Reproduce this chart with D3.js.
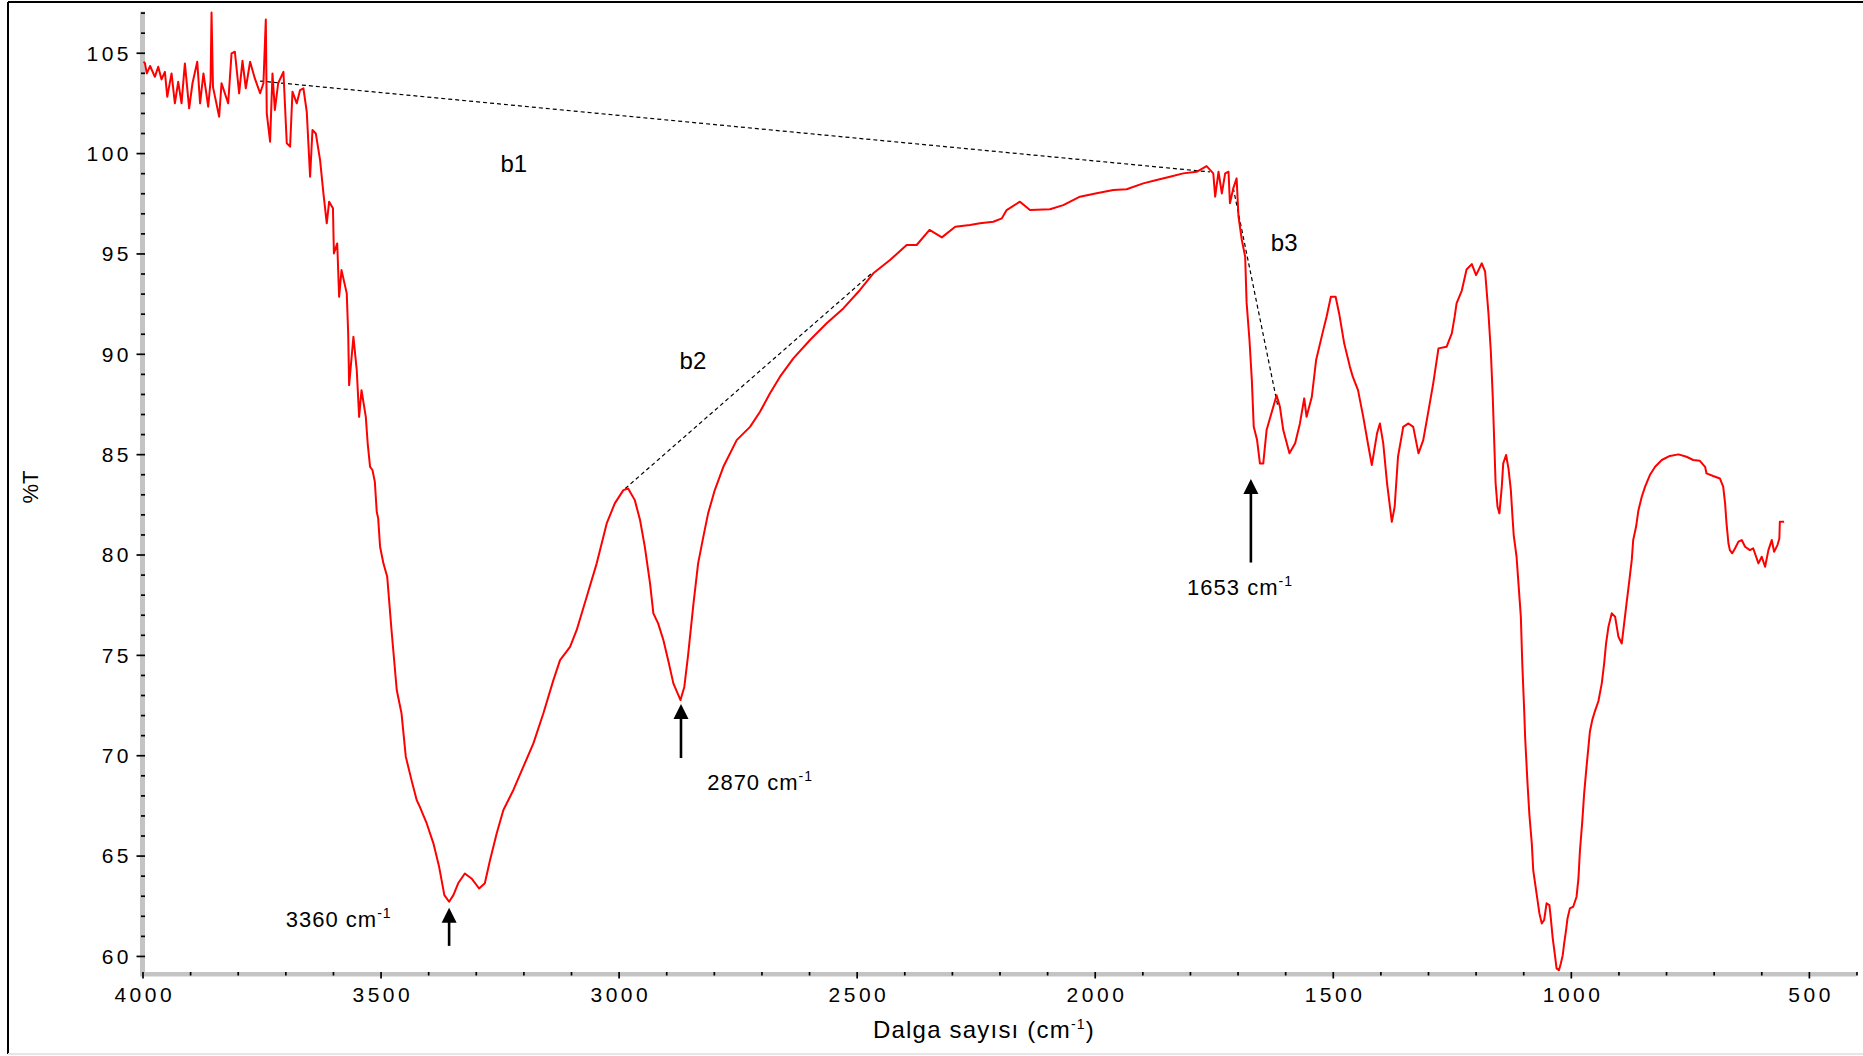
<!DOCTYPE html>
<html>
<head>
<meta charset="utf-8">
<script src="https://cdn.jsdelivr.net/npm/d3@7"></script>
<style>
  body { margin: 0; background: #fff; }
  svg text { font-family: "Liberation Sans", Arial, sans-serif; fill: #000; }
</style>
</head>
<body>
<svg id="chart"></svg>
<script>
// FTIR spectrum (cm-1 / %T)
const wavenumber = [
  3998, 3995, 3991, 3984, 3974, 3967, 3960, 3953, 3948, 3939,
  3932, 3925, 3918, 3911, 3902, 3895, 3885, 3879, 3872, 3862,
  3857, 3855, 3852, 3839, 3834, 3820, 3813, 3806, 3797, 3790,
  3783, 3774, 3764, 3753, 3746, 3741, 3739, 3732, 3727, 3722,
  3715, 3704, 3697, 3690, 3685, 3676, 3669, 3662, 3655, 3648,
  3643, 3636, 3627, 3620, 3613, 3608, 3600, 3598, 3591, 3587,
  3582, 3571, 3568, 3566, 3557, 3550, 3545, 3540, 3531, 3527,
  3522, 3517, 3512, 3508, 3505, 3501, 3494, 3486, 3477, 3466,
  3456, 3447, 3435, 3424, 3419, 3403, 3389, 3377, 3366, 3356,
  3347, 3337, 3323, 3309, 3293, 3281, 3270, 3256, 3242, 3221,
  3200, 3179, 3158, 3137, 3123, 3102, 3088, 3067, 3046, 3025,
  3008, 2990, 2980, 2966, 2955, 2945, 2934, 2927, 2917, 2906,
  2896, 2885, 2870, 2862, 2854, 2843, 2833, 2822, 2812, 2798,
  2780, 2752, 2724, 2703, 2682, 2661, 2633, 2598, 2563, 2528,
  2493, 2465, 2430, 2395, 2374, 2347, 2321, 2293, 2262, 2241,
  2213, 2195, 2185, 2157, 2136, 2094, 2066, 2031, 1996, 1961,
  1933, 1898, 1870, 1842, 1814, 1786, 1765, 1751, 1747, 1740,
  1733, 1726, 1719, 1716, 1709, 1702, 1698, 1691, 1684, 1681,
  1675, 1670, 1666, 1659, 1653, 1646, 1639, 1629, 1618, 1611,
  1604, 1591, 1579, 1569, 1560, 1555, 1544, 1535, 1520, 1513,
  1504, 1494, 1486, 1476, 1464, 1458, 1447, 1436, 1425, 1418,
  1407, 1401, 1394, 1386, 1376, 1370, 1363, 1352, 1341, 1331,
  1320, 1310, 1300, 1289, 1278, 1261, 1250, 1244, 1240, 1229,
  1219, 1208, 1199, 1187, 1180, 1173, 1168, 1164, 1161, 1158,
  1154, 1150, 1145, 1142, 1136, 1131, 1126, 1123, 1120, 1114,
  1110, 1105, 1102, 1098, 1096, 1091, 1087, 1082, 1079, 1073,
  1069, 1066, 1061, 1056, 1051, 1045, 1042, 1038, 1033, 1030,
  1025, 1021, 1017, 1014, 1010, 1007, 1002, 995, 988, 984,
  981, 976, 972, 967, 963, 960, 955, 950, 942, 935,
  930, 926, 921, 914, 907, 900, 893, 888, 883, 877,
  872, 869, 863, 858, 851, 844, 834, 823, 809, 792,
  774, 757, 743, 729, 718, 715, 701, 687, 680, 676,
  673, 669, 666, 661, 655, 648, 641, 634, 624, 617,
  606, 599, 592, 585, 578, 573, 566, 562, 561, 552
];
const transmittance = [
  104.55, 104.49, 103.97, 104.34, 103.80, 104.30, 103.67, 104.05, 102.81, 103.97,
  102.48, 103.55, 102.48, 104.47, 102.23, 103.48, 104.55, 102.48, 103.97, 102.31,
  103.60, 107.00, 103.30, 101.81, 103.48, 102.48, 104.97, 105.05, 102.98, 104.60,
  103.23, 104.55, 103.72, 102.98, 103.48, 106.66, 101.98, 100.57, 103.97, 102.15,
  103.48, 104.05, 100.49, 100.32, 103.06, 102.48, 103.14, 103.23, 102.06, 98.82,
  101.15, 100.98, 99.65, 97.99, 96.50, 97.58, 97.25, 95.00, 95.50, 92.84,
  94.17, 93.01, 91.02, 88.44, 90.85, 89.19, 86.86, 88.19, 86.86, 85.53,
  84.37, 84.21, 83.62, 82.13, 81.80, 80.39, 79.56, 78.89, 76.24, 73.25,
  72.09, 69.93, 68.76, 67.76, 67.51, 66.60, 65.61, 64.44, 63.03, 62.70,
  63.03, 63.62, 64.11, 63.86, 63.36, 63.62, 64.78, 66.11, 67.27, 68.27,
  69.43, 70.59, 72.09, 73.74, 74.74, 75.40, 76.24, 77.90, 79.56, 81.55,
  82.55, 83.21, 83.29, 82.71, 81.72, 80.39, 78.56, 77.07, 76.57, 75.74,
  74.74, 73.58, 72.75, 73.40, 75.00, 77.50, 79.56, 80.89, 82.05, 83.21,
  84.37, 85.70, 86.36, 87.11, 88.03, 88.86, 89.77, 90.69, 91.52, 92.26,
  93.18, 94.01, 94.67, 95.42, 95.42, 96.17, 95.80, 96.33, 96.42, 96.50,
  96.58, 96.75, 97.16, 97.58, 97.16, 97.20, 97.41, 97.83, 98.00, 98.16,
  98.20, 98.49, 98.66, 98.82, 98.99, 99.07, 99.35, 98.99, 97.83, 99.07,
  97.99, 98.99, 99.07, 97.50, 98.24, 98.74, 96.83, 95.67, 94.84, 92.55,
  90.70, 88.69, 86.36, 85.70, 84.54, 84.54, 86.20, 87.03, 87.94, 87.36,
  86.20, 85.04, 85.54, 86.53, 87.78, 86.86, 87.86, 89.69, 91.18, 91.85,
  92.84, 92.84, 91.93, 90.52, 89.35, 88.86, 88.19, 86.86, 85.37, 84.46,
  86.04, 86.53, 85.54, 83.55, 81.63, 82.38, 84.87, 86.36, 86.53, 86.36,
  85.04, 85.70, 87.03, 88.53, 90.27, 90.35, 91.02, 91.85, 92.51, 93.15,
  94.20, 94.47, 93.92, 94.51, 94.09, 92.01, 90.10, 87.86, 85.70, 83.55,
  82.38, 82.05, 83.38, 84.54, 84.96, 84.29, 83.21, 82.05, 80.97, 79.89,
  78.56, 76.90, 74.58, 72.25, 70.90, 68.60, 67.02, 65.61, 64.28, 63.28,
  62.62, 62.12, 61.62, 61.79, 62.62, 62.53, 61.87, 60.87, 59.96, 59.38,
  59.29, 59.62, 60.04, 60.62, 61.29, 61.87, 62.37, 62.45, 62.95, 63.86,
  65.19, 66.69, 68.10, 69.43, 70.42, 71.17, 71.75, 72.15, 72.70, 73.58,
  74.58, 75.57, 76.40, 77.07, 76.90, 75.90, 75.57, 76.57, 77.57, 78.73,
  79.73, 80.72, 81.38, 82.21, 82.88, 83.38, 83.96, 84.37, 84.71, 84.91,
  84.99, 84.87, 84.71, 84.67, 84.37, 84.04, 83.91, 83.79, 83.38, 82.55,
  81.55, 80.56, 80.22, 80.06, 80.31, 80.64, 80.72, 80.39, 80.22, 80.31,
  79.56, 79.89, 79.39, 80.22, 80.72, 80.14, 80.47, 80.80, 81.63, 81.63
];

const xTicks = [4000, 3500, 3000, 2500, 2000, 1500, 1000, 500];
const yTicks = [60, 65, 70, 75, 80, 85, 90, 95, 100, 105];

// marked peaks: arrow (x, tip, tail) and label anchor
const peakNames = ["3360", "2870", "1653"];
const peakArrowX = [3356, 2869, 1672];
const peakArrowTip = [62.4, 72.55, 83.76];
const peakArrowTail = [60.5, 69.86, 79.6];
const peakLabelX = [3699, 2814, 1806];
const peakLabelY = [61.45, 68.26, 77.98];

// band baselines (dashed) and their names
const bandNames = ["b1", "b2", "b3"];
const bandLabelX = [3220, 2844, 1602];
const bandLabelY = [99.5, 89.69, 95.56];
const bandX1 = [3753, 2986, 1709];
const bandY1 = [103.59, 83.29, 98.26];
const bandX2 = [1758, 2468, 1615];
const bandY2 = [99.06, 94.02, 87.34];

const W = 1863, H = 1056;
const svg = d3.select("#chart").attr("width", W).attr("height", H);

const x = d3.scaleLinear().domain([4000, 400]).range([142.5, 1856.5]);
const y = d3.scaleLinear().domain([59.1, 107]).range([974, 12.6]);

// outer frame
svg.append("line").attr("x1", 8).attr("x2", W).attr("y1", 2).attr("y2", 2)
    .attr("stroke", "#000").attr("stroke-width", 2);
svg.append("line").attr("x1", 8).attr("x2", 8).attr("y1", 2).attr("y2", 1054)
    .attr("stroke", "#000").attr("stroke-width", 2);
svg.append("line").attr("x1", 8).attr("x2", W).attr("y1", 1054).attr("y2", 1054)
    .attr("stroke", "#e6e6e6").attr("stroke-width", 2);

// grey axis bars
const x0 = x(4000);
svg.append("rect")
    .attr("x", x0 - 2.5).attr("y", y(107) - 1)
    .attr("width", 5).attr("height", y(59.1) - y(107) + 3)
    .attr("fill", "#c4c4c4");
svg.append("rect")
    .attr("x", x0 - 2.5).attr("y", y(59.1) - 2)
    .attr("width", x(400) - x0 + 2.5).attr("height", 4.5)
    .attr("fill", "#c4c4c4");

// y axis
const yMinor = d3.range(60, 108).filter(d => d % 5 !== 0);
const yMinorG = svg.append("g")
    .attr("transform", `translate(${x0 + 2.5},0)`)
    .call(d3.axisLeft(y).tickValues(yMinor).tickSize(4).tickFormat(""));
const yAxisG = svg.append("g")
    .attr("transform", `translate(${x0 + 2.5},0)`)
    .call(d3.axisLeft(y).tickValues(yTicks).tickSize(8.5).tickFormat(d3.format("d")));
[yMinorG, yAxisG].forEach(g => {
    g.select(".domain").remove();
    g.selectAll("line").attr("stroke", "#000").attr("stroke-width", 1.7);
});
yAxisG.selectAll("text")
    .attr("x", -13).attr("dy", "0.35em")
    .style("font-size", "21px").style("letter-spacing", "3.5px");

// x axis
const xMinor = d3.range(400, 4001, 100).filter(d => d % 500 !== 0);
const xMinorG = svg.append("g")
    .attr("transform", `translate(0,${y(59.1) - 2})`)
    .call(d3.axisBottom(x).tickValues(xMinor).tickSize(3.5).tickFormat(""));
const xAxisG = svg.append("g")
    .attr("transform", `translate(0,${y(59.1) - 2})`)
    .call(d3.axisBottom(x).tickValues(xTicks).tickSize(6.5).tickPadding(9).tickFormat(d3.format("d")));
[xMinorG, xAxisG].forEach(g => {
    g.select(".domain").remove();
    g.selectAll("line").attr("stroke", "#000").attr("stroke-width", 1.7);
});
xAxisG.selectAll("text")
    .attr("x", 1.75)
    .style("font-size", "21px").style("letter-spacing", "3.5px");

// axis titles
const xTitle = svg.append("text")
    .attr("x", 984).attr("y", 1038)
    .attr("text-anchor", "middle")
    .style("font-size", "24px").style("letter-spacing", "1.2px");
xTitle.append("tspan").text("Dalga sayısı (cm");
xTitle.append("tspan").attr("dy", -9).style("font-size", "14px").text("-1");
xTitle.append("tspan").attr("dy", 9).text(")");

svg.append("text")
    .attr("transform", "translate(38,487) rotate(-90)")
    .attr("text-anchor", "middle")
    .style("font-size", "22px")
    .text("%T");

// dashed band baselines
svg.append("g").selectAll("line")
    .data(bandNames)
    .join("line")
    .attr("x1", (d, i) => x(bandX1[i])).attr("y1", (d, i) => y(bandY1[i]))
    .attr("x2", (d, i) => x(bandX2[i])).attr("y2", (d, i) => y(bandY2[i]))
    .attr("stroke", "#000").attr("stroke-width", 1.2)
    .attr("stroke-dasharray", "4,3");

// spectrum
const points = wavenumber.map((w, i) => [w, transmittance[i]]);
svg.append("path")
    .datum(points)
    .attr("fill", "none")
    .attr("stroke", "#ff0000")
    .attr("stroke-width", 2)
    .attr("stroke-linejoin", "round")
    .attr("d", d3.line().x(d => x(d[0])).y(d => y(d[1])));

// band labels
svg.append("g").selectAll("text")
    .data(bandNames)
    .join("text")
    .attr("x", (d, i) => x(bandLabelX[i]))
    .attr("y", (d, i) => y(bandLabelY[i]))
    .attr("dy", "0.36em")
    .attr("text-anchor", "middle")
    .style("font-size", "24px")
    .text(d => d);

// peak arrows
const headLen = 15, headHalf = 7.5;
const arrows = svg.append("g").selectAll("g")
    .data(peakNames)
    .join("g");
arrows.append("line")
    .attr("x1", (d, i) => x(peakArrowX[i])).attr("x2", (d, i) => x(peakArrowX[i]))
    .attr("y1", (d, i) => y(peakArrowTail[i]))
    .attr("y2", (d, i) => y(peakArrowTip[i]) + headLen - 1)
    .attr("stroke", "#000").attr("stroke-width", 2.6);
arrows.append("path")
    .attr("d", (d, i) => {
        const ax = x(peakArrowX[i]), ay = y(peakArrowTip[i]);
        return `M${ax},${ay}L${ax + headHalf},${ay + headLen}L${ax - headHalf},${ay + headLen}Z`;
    })
    .attr("fill", "#000");

// peak labels
const peakText = svg.append("g").selectAll("text")
    .data(peakNames)
    .join("text")
    .attr("x", (d, i) => x(peakLabelX[i]))
    .attr("y", (d, i) => y(peakLabelY[i]))
    .style("font-size", "22px").style("letter-spacing", "1px");
peakText.append("tspan").text(d => d + " cm");
peakText.append("tspan").attr("dy", -9).style("font-size", "14px").text("-1");
</script>
</body>
</html>
